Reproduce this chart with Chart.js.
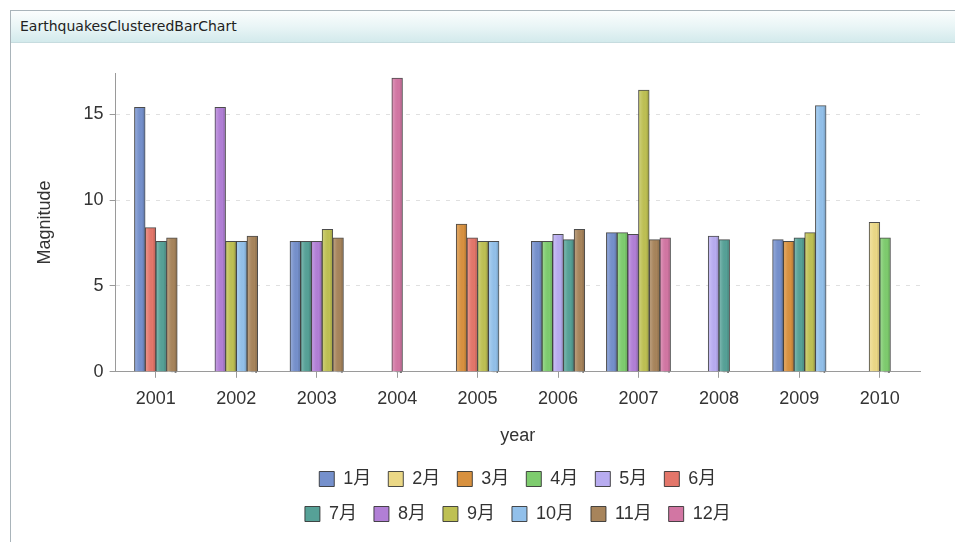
<!DOCTYPE html>
<html>
<head>
<meta charset="utf-8">
<script src="https://cdn.jsdelivr.net/npm/chart.js@4/dist/chart.umd.min.js"></script>
<style>
    html, body { margin: 0; padding: 0; background: #fff; overflow: hidden; }
    .panel {
        position: absolute; left: 10px; top: 10px; width: 1100px; height: 600px;
        border: 1px solid #a9b4ba; background: #fff;
    }
    .panel-title {
        height: 31px; line-height: 31px; padding-left: 9px;
        font-family: 'DejaVu Sans', sans-serif; font-size: 14px; color: #222;
        background: linear-gradient(to bottom, #fbfdfd 0%, #e9f5f6 50%, #d3eaec 100%);
        border-bottom: 1px solid #c6dcdf;
    }
    .chart-box { position: absolute; left: 0; top: 32px; width: 944px; height: 499px; }
</style>
</head>
<body>
<div class="panel">
    <div class="panel-title">EarthquakesClusteredBarChart</div>
    <div class="chart-box"><canvas id="chartQuakes"></canvas></div>
</div>
<script>
// Categories and series
const years = ['2001', '2002', '2003', '2004', '2005', '2006', '2007', '2008', '2009', '2010'];
const months = ['1月', '2月', '3月', '4月', '5月', '6月', '7月', '8月', '9月', '10月', '11月', '12月'];
const yTicks = [0, 5, 10, 15];

// Magnitude per month, one value per year (null = no quake)
const m01 = [15.4, null, 7.6, null, null, 7.6, 8.1, null, 7.7, null];
const m02 = [null, null, null, null, null, null, null, null, null, 8.7];
const m03 = [null, null, null, null, 8.6, null, null, null, 7.6, null];
const m04 = [null, null, null, null, null, 7.6, 8.1, null, null, 7.8];
const m05 = [null, null, null, null, null, 8.0, null, 7.9, null, null];
const m06 = [8.4, null, null, null, 7.8, null, null, null, null, null];
const m07 = [7.6, null, 7.6, null, null, 7.7, null, 7.7, 7.8, null];
const m08 = [null, 15.4, 7.6, null, null, null, 8.0, null, null, null];
const m09 = [null, 7.6, 8.3, null, 7.6, null, 16.4, null, 8.1, null];
const m10 = [null, 7.6, null, null, 7.6, null, null, null, 15.5, null];
const m11 = [7.8, 7.9, 7.8, null, null, 8.3, 7.7, null, null, null];
const m12 = [null, null, null, 17.1, null, null, 7.8, null, null, null];

const seriesValues = [m01, m02, m03, m04, m05, m06, m07, m08, m09, m10, m11, m12];
const seriesColors = ['#7590cc', '#ebd886', '#d8913f', '#7ecc6e', '#b8acf0', '#e3766a',
                      '#56a197', '#b17fd6', '#bec053', '#92c0ea', '#a7845b', '#d276a3'];

const fontFamily = "'Liberation Sans', Arial, 'Noto Sans CJK SC', sans-serif";
const LEGEND_FIT_WIDTH = 475;   // wrapping width used when measuring rows
const LEGEND_DRAW_WIDTH = 500;  // box width used when drawing the rows

const datasets = months.map((m, i) => ({
    label: m,
    data: seriesValues[i],
    backgroundColor: seriesColors[i],
    borderColor: 'rgba(45, 45, 45, 0.85)',
    borderWidth: 1,
    borderSkipped: 'bottom',
    barThickness: 10.7,
    skipNull: true
}));

// Wrap the legend at 6 items per row, like the original
const legendWrap = {
    id: 'legendWrap',
    beforeUpdate(chart) {
        const legend = chart.legend;
        if (!legend || legend._wrapped) return;
        const orig = legend.update;
        legend.update = function(maxWidth, maxHeight, margins) {
            return orig.call(this, Math.min(maxWidth, LEGEND_FIT_WIDTH), maxHeight, margins);
        };
        legend._wrapped = true;
    },
    afterLayout(chart) {
        const legend = chart.legend;
        if (!legend) return;
        const mid = (legend.left + legend.right) / 2;
        legend.left = mid - LEGEND_DRAW_WIDTH / 2;
        legend.right = mid + LEGEND_DRAW_WIDTH / 2;
        legend.width = LEGEND_DRAW_WIDTH;
    }
};

// Light sheen over each bar for the bevelled look
const barSheen = {
    id: 'barSheen',
    afterDatasetsDraw(chart) {
        const ctx = chart.ctx;
        chart.data.datasets.forEach((ds, di) => {
            chart.getDatasetMeta(di).data.forEach(bar => {
                if (bar.skip || bar.y == null || isNaN(bar.y)) return;
                const w = bar.width, left = bar.x - w / 2;
                const g = ctx.createLinearGradient(left, 0, left + w, 0);
                g.addColorStop(0, 'rgba(255,255,255,0.28)');
                g.addColorStop(0.35, 'rgba(255,255,255,0.05)');
                g.addColorStop(0.7, 'rgba(0,0,0,0)');
                g.addColorStop(1, 'rgba(0,0,0,0.22)');
                ctx.save();
                ctx.fillStyle = g;
                ctx.fillRect(left + 1, bar.y + 1, w - 2, bar.base - bar.y - 1);
                ctx.restore();
            });
        });
    }
};

new Chart(document.getElementById('chartQuakes'), {
    type: 'bar',
    data: { labels: years, datasets: datasets },
    plugins: [legendWrap, barSheen],
    options: {
        responsive: true,
        maintainAspectRatio: false,
        animation: false,
        layout: { padding: { top: 30, right: 35, bottom: 9, left: 23 } },
        plugins: {
            legend: {
                position: 'bottom',
                fullSize: false,
                labels: {
                    boxWidth: 15,
                    boxHeight: 15,
                    padding: 17,
                    color: '#333',
                    font: { family: fontFamily, size: 18 }
                }
            },
            tooltip: { enabled: false }
        },
        scales: {
            x: {
                grid: {
                    display: true,
                    drawOnChartArea: false,
                    offset: false,
                    tickLength: 6,
                    color: '#9a9a9a'
                },
                border: { color: '#9a9a9a' },
                ticks: {
                    color: '#333',
                    padding: 10,
                    maxRotation: 0,
                    font: { family: fontFamily, size: 18 }
                },
                title: {
                    display: true,
                    text: 'year',
                    color: '#333',
                    padding: { top: 6, bottom: 6 },
                    font: { family: fontFamily, size: 18 }
                }
            },
            y: {
                min: 0,
                max: 17.4,
                afterBuildTicks: function(scale) {
                    scale.ticks = yTicks.map(v => ({ value: v }));
                },
                grid: {
                    color: function(ctx) {
                        return ctx.tick && ctx.tick.value === 0 ? 'rgba(0,0,0,0)' : '#e0e0e0';
                    },
                    tickColor: '#9a9a9a',
                    tickLength: 6,
                    tickBorderDash: []
                },
                border: { color: '#9a9a9a', dash: [4, 6] },
                ticks: {
                    color: '#333',
                    padding: 6,
                    font: { family: fontFamily, size: 18 }
                },
                title: {
                    display: true,
                    text: 'Magnitude',
                    color: '#333',
                    padding: { top: 0, bottom: 22 },
                    font: { family: fontFamily, size: 18 }
                }
            }
        }
    }
});
</script>
</body>
</html>
